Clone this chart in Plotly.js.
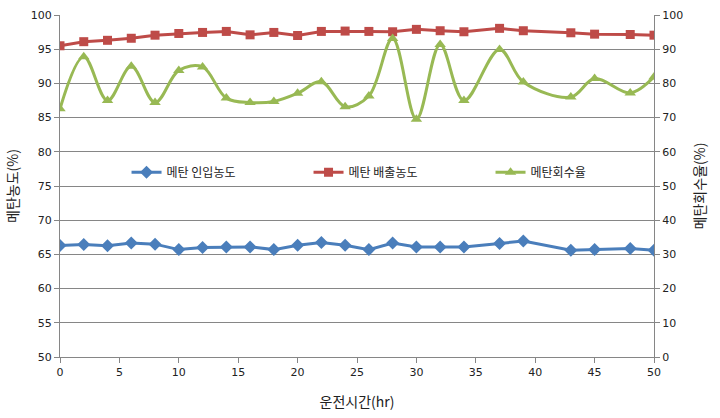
<!DOCTYPE html>
<html>
<head>
<meta charset="utf-8">
<script src="https://cdn.plot.ly/plotly-3.0.1.min.js"></script>
<style>html,body{margin:0;padding:0;background:#fff;}#chart{width:720px;height:418px;}</style>
</head>
<body>
<div id="chart"></div>
<script>
const hours = [0,2,4,6,8,10,12,14,16,18,20,22,24,26,28,30,32,34,37,39,43,45,48,50];
const inletConc = [66.3,66.45,66.25,66.65,66.5,65.7,66.0,66.1,66.1,65.7,66.35,66.75,66.35,65.7,66.65,66.1,66.1,66.1,66.6,66.95,65.6,65.7,65.85,65.6];
const outletConc = [95.5,96.1,96.3,96.6,97.05,97.3,97.45,97.6,97.1,97.45,97.0,97.6,97.65,97.6,97.55,97.9,97.7,97.55,98.05,97.7,97.4,97.2,97.15,97.05];
const recovery = [72.6,87.8,75.0,85.0,74.4,83.8,84.8,75.7,74.4,74.7,77.1,80.5,73.2,76.3,93.1,69.5,91.4,75.0,89.9,80.4,76.0,81.4,77.2,81.9];
const seriesNames = ['메탄 인입농도','메탄 배출농도','메탄회수율'];

const font = 'Noto Sans CJK KR, DejaVu Sans, sans-serif';
const traces = [
  {x: hours, y: inletConc, name: seriesNames[0], type: 'scatter', mode: 'lines+markers',
   line: {color: '#4A7EBB', width: 3}, marker: {symbol: 'diamond', size: 10, color: '#4A7EBB'}},
  {x: hours, y: outletConc, name: seriesNames[1], type: 'scatter', mode: 'lines+markers',
   line: {color: '#BE4B48', width: 3}, marker: {symbol: 'square', size: 9, color: '#BE4B48'}},
  {x: hours, y: recovery, name: seriesNames[2], type: 'scatter', mode: 'lines+markers', yaxis: 'y2',
   line: {color: '#98B954', width: 3, shape: 'spline', smoothing: 1}, marker: {symbol: 'triangle-up', size: 10, color: '#98B954'}}
];
const axisCommon = {
  showline: true, linecolor: '#868686', linewidth: 1,
  ticks: 'outside', ticklen: 5, tickcolor: '#868686',
  tickfont: {family: 'DejaVu Sans, sans-serif', size: 11, color: '#222'},
  zeroline: false
};
const layout = {
  width: 720, height: 418,
  margin: {l: 60, r: 66, t: 15, b: 61},
  paper_bgcolor: '#fff', plot_bgcolor: '#fff',
  showlegend: true,
  legend: {orientation: 'h', x: 0.112, xanchor: 'left', y: 0.54, yanchor: 'middle',
           font: {family: font, size: 12, color: '#222'}, bgcolor: 'rgba(0,0,0,0)',
           entrywidth: 137, entrywidthmode: 'pixels', traceorder: 'normal'},
  xaxis: Object.assign({}, axisCommon, {range: [0, 50], dtick: 5, tick0: 0, showgrid: false,
    title: {text: '운전시간(hr)', font: {family: font, size: 14, color: '#222'}, standoff: 18}}),
  yaxis: Object.assign({}, axisCommon, {range: [50, 100], dtick: 5, showgrid: true, gridcolor: '#868686', gridwidth: 1,
    title: {text: '메탄농도(%)', font: {family: font, size: 14, color: '#222'}, standoff: 8}}),
  yaxis2: Object.assign({}, axisCommon, {range: [0, 100], dtick: 10, overlaying: 'y', side: 'right', showgrid: false,
    title: {text: '메탄회수율(%)', font: {family: font, size: 14, color: '#222'}, standoff: 12}})
};
Plotly.newPlot('chart', traces, layout, {displayModeBar: false, staticPlot: true});
</script>
</body>
</html>
